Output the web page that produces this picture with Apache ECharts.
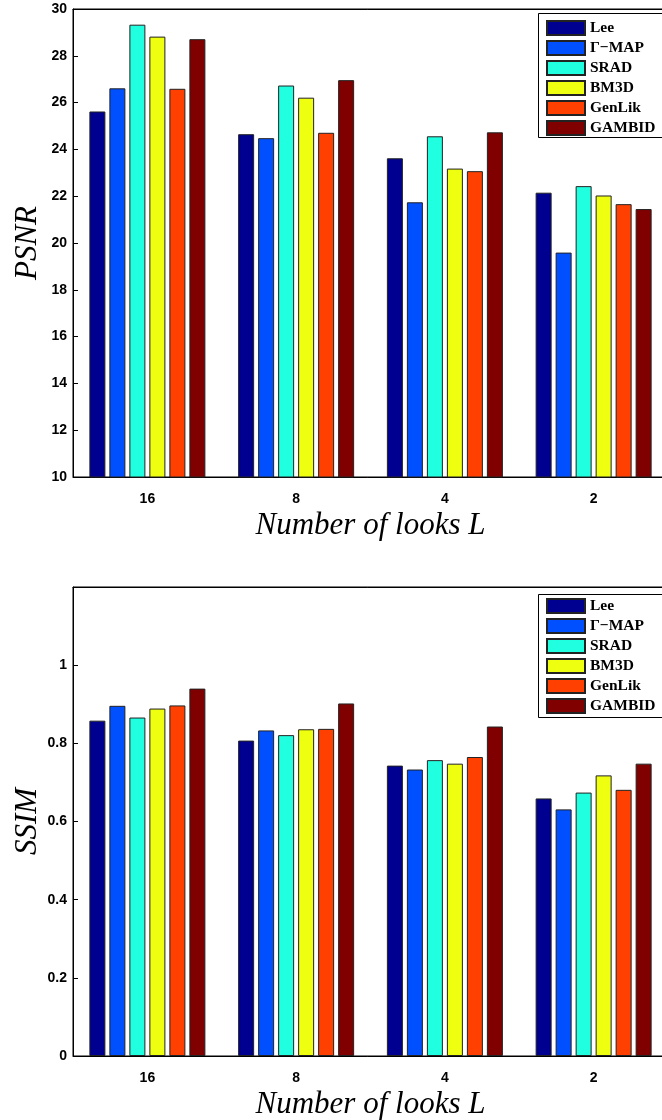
<!DOCTYPE html>
<html>
<head>
<meta charset="utf-8">
<script src="https://cdn.jsdelivr.net/npm/echarts@6/dist/echarts.min.js"></script>
<style>
  html, body { margin: 0; padding: 0; background: #fff; }
  #chartBox { width: 662px; height: 1120px; }
</style>
</head>
<body>
<div id="chartBox"></div>
<script>
// number of looks on the x axis
var categories = ['16', '8', '4', '2'];
var methodNames = ['Lee', 'Γ−MAP', 'SRAD', 'BM3D', 'GenLik', 'GAMBID'];
var methodColors = ['#000090', '#0050FF', '#20FFE0', '#EEFF10', '#FF4000', '#800000'];

// PSNR (top panel)
var psnrLee      = [25.62, 24.65, 23.62, 22.15];
var psnrGammaMap = [26.61, 24.48, 21.74, 19.59];
var psnrSrad     = [29.33, 26.73, 24.56, 22.43];
var psnrBm3d     = [28.82, 26.21, 23.18, 22.03];
var psnrGenLik   = [26.59, 24.71, 23.07, 21.66];
var psnrGambid   = [28.71, 26.96, 24.73, 21.45];

// SSIM (bottom panel)
var ssimLee      = [0.858, 0.807, 0.743, 0.659];
var ssimGammaMap = [0.896, 0.833, 0.733, 0.631];
var ssimSrad     = [0.866, 0.821, 0.757, 0.674];
var ssimBm3d     = [0.889, 0.836, 0.748, 0.718];
var ssimGenLik   = [0.897, 0.837, 0.765, 0.681];
var ssimGambid   = [0.940, 0.902, 0.843, 0.748];

var psnrData = [psnrLee, psnrGammaMap, psnrSrad, psnrBm3d, psnrGenLik, psnrGambid];
var ssimData = [ssimLee, ssimGammaMap, ssimSrad, ssimBm3d, ssimGenLik, ssimGambid];

var tickFont = { color: '#000', fontFamily: 'Liberation Sans, Arial, sans-serif', fontWeight: 'bold', fontSize: 14 };
var titleFont = { color: '#000', fontFamily: 'Liberation Serif, Times New Roman, serif', fontStyle: 'italic', fontSize: 31 };

function bottomXAxis(grid) {
    return {
        type: 'category', gridIndex: grid, data: categories, position: 'bottom',
        name: 'Number of looks L', nameLocation: 'middle', nameGap: 33, nameTextStyle: titleFont,
        nameMoveOverlap: false,
        axisLine: { lineStyle: { color: '#000', width: 1 } },
        axisTick: { inside: true, alignWithLabel: true, length: 5, lineStyle: { color: '#000' } },
        axisLabel: Object.assign({ margin: 15 }, tickFont),
        splitLine: { show: false }
    };
}
function topXAxis(grid) {
    return {
        type: 'category', gridIndex: grid, data: categories, position: 'top',
        axisLine: { lineStyle: { color: '#000', width: 1 } },
        axisTick: { inside: true, alignWithLabel: true, length: 5, lineStyle: { color: '#000' } },
        axisLabel: { show: false },
        splitLine: { show: false }
    };
}
function yAxis(grid, name, min, max, interval, fmt) {
    return {
        type: 'value', gridIndex: grid, min: min, max: max, interval: interval,
        name: name, nameLocation: 'middle', nameGap: 30, nameTextStyle: titleFont,
        nameMoveOverlap: false,
        axisLine: { show: true, lineStyle: { color: '#000', width: 1 } },
        axisTick: { show: true, inside: true, length: 5, lineStyle: { color: '#000' } },
        axisLabel: Object.assign({ margin: 6, formatter: fmt }, tickFont),
        splitLine: { show: false }
    };
}

var series = [];
methodNames.forEach(function (name, i) {
    var common = {
        type: 'bar', name: name, barWidth: 16, barGap: '25%',
        itemStyle: { color: methodColors[i], borderColor: '#222', borderWidth: 1 },
        emphasis: { disabled: true }
    };
    series.push(Object.assign({}, common, { xAxisIndex: 0, yAxisIndex: 0, data: psnrData[i] }));
    series.push(Object.assign({}, common, { xAxisIndex: 2, yAxisIndex: 1, data: ssimData[i] }));
});

function legendAt(top) {
    return {
        data: methodNames, orient: 'vertical', left: 538, top: top,
        itemWidth: 38, itemHeight: 14, itemGap: 4,
        padding: [6, 10, 3, 8], borderWidth: 0,
        icon: 'rect',
        textStyle: { color: '#000', fontFamily: 'Liberation Serif, Times New Roman, serif', fontWeight: 'bold', fontSize: 15.5, lineHeight: 14 }
    };
}
// legend frame runs past the right edge of the picture, as in the figure
function legendFrame(top, height) {
    return {
        type: 'rect', left: 538, top: top, z: 3,
        shape: { width: 150, height: height },
        style: { fill: '#fff', stroke: '#000', lineWidth: 1 }
    };
}

var option = {
    animation: false,
    backgroundColor: '#fff',
    grid: [
        { left: 73, top: 9, width: 595, height: 468, show: true, borderColor: '#000', borderWidth: 1, outerBoundsMode: 'none' },
        { left: 73, top: 587, width: 595, height: 469, show: true, borderColor: '#000', borderWidth: 1, outerBoundsMode: 'none' }
    ],
    graphic: [legendFrame(13, 124), legendFrame(594, 123)],
    legend: [legendAt(14), legendAt(592)],
    xAxis: [bottomXAxis(0), topXAxis(0), bottomXAxis(1), topXAxis(1)],
    yAxis: [
        yAxis(0, 'PSNR', 10, 30, 2, function (v) { return String(v); }),
        yAxis(1, 'SSIM', 0, 1.2, 0.2, function (v) {
            if (v > 1.1) return '';
            return String(Math.round(v * 10) / 10);
        })
    ],
    series: series
};

var chart = echarts.init(document.getElementById('chartBox'));
chart.setOption(option);
</script>
</body>
</html>
